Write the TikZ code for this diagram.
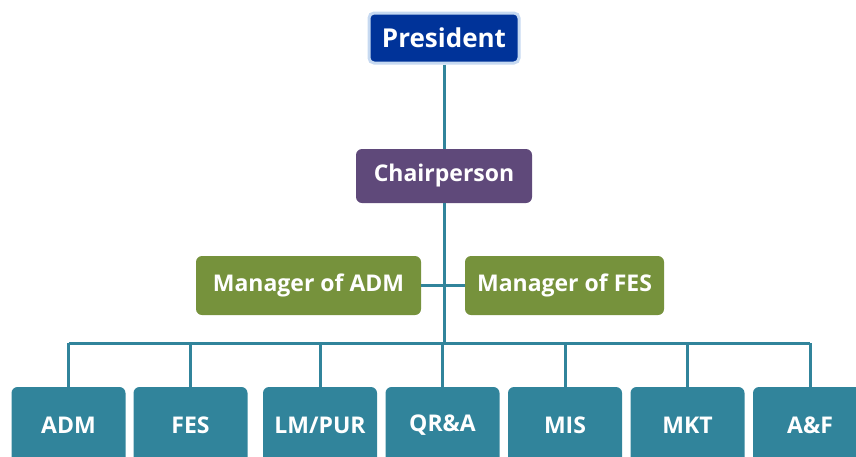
\documentclass[tikz,border=0pt]{standalone}
\usepackage{fontspec}
\setmainfont{Open Sans}
\begin{document}
\definecolor{presblue}{HTML}{003399}
\definecolor{chairpurple}{HTML}{5F497A}
\definecolor{mgrolive}{HTML}{76923C}
\definecolor{deptteal}{HTML}{31849B}
\definecolor{halo}{HTML}{C6D9F1}
\begin{tikzpicture}[x=1pt,y=-1pt,
        box/.style={text=white,font=\bfseries\fontsize{23}{26}\selectfont,inner sep=0pt,rounded corners=6pt},
        dept/.style={box,fill=deptteal,minimum width=114pt,minimum height=76pt},
        link/.style={draw=deptteal,line width=3pt}]
        \useasboundingbox (0,0) rectangle (856,456);
        \clip (0,0) rectangle (856,456);
        \node[box,fill=presblue,draw=halo,line width=3pt,rounded corners=5pt,minimum width=150pt,minimum height=50pt,font=\bfseries\fontsize{26}{30}\selectfont] (pres) at (444,38) {President};
        \node[box,fill=chairpurple,minimum width=176pt,minimum height=54pt] (chair) at (444,176) {Chairperson};
        \node[box,fill=mgrolive,minimum width=225pt,minimum height=59pt] (madm) at (308.5,285.5) {Manager of ADM};
        \node[box,fill=mgrolive,minimum width=199pt,minimum height=59pt] (mfes) at (564.5,285.5) {Manager of FES};
        \node[dept] (adm) at (68.5,425) {ADM};
        \node[dept] (fes) at (190.5,425) {FES};
        \node[dept] (lmpur) at (320,425) {LM/PUR};
        \node[dept] (qra) at (442.5,425) {QR\&A};
        \node[dept] (mis) at (565,425) {MIS};
        \node[dept] (mkt) at (687.5,425) {MKT};
        \node[dept] (af) at (810,425) {A\&F};
        \coordinate (bus) at (443,343);
        \draw[link] (pres) -- (chair);
        \draw[link] (chair.south) -- (chair.south |- bus);
        \draw[link] (madm.east) -- (mfes.west);
        \draw[link] (adm.north |- bus) -- (af.north |- bus);
        \foreach \d in {adm,fes,lmpur,qra,mis,mkt,af}
                \draw[link] (\d.north) -- (\d.north |- bus);
\end{tikzpicture}
\end{document}
